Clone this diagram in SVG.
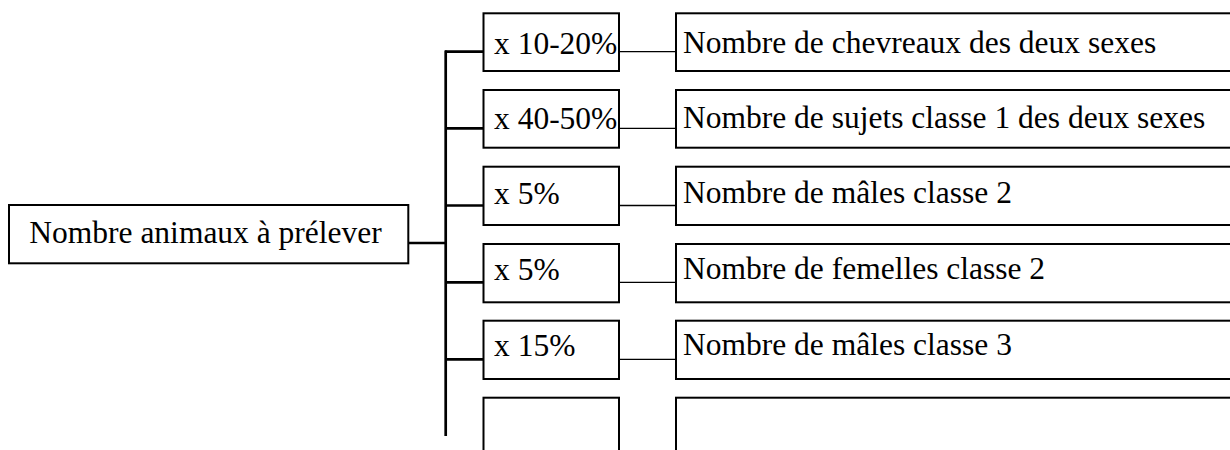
<svg xmlns="http://www.w3.org/2000/svg" width="1230" height="450" viewBox="0 0 1230 450">
<style>
.box{fill:#fff;stroke:#000;stroke-width:2}
.t{font-family:"Liberation Serif","Times New Roman",serif;font-size:31.5px;fill:#000}
.thick{stroke:#000;stroke-width:2.7;fill:none}
.thin{stroke:#000;stroke-width:1.3;fill:none}
</style>
<rect width="1230" height="450" fill="#fff"/>
<g id="connectors">
<line class="thick" x1="408" y1="243" x2="446" y2="243"/>
<line class="thick" x1="445.7" y1="50.4" x2="445.7" y2="436"/>
<line class="thick" x1="445" y1="51.7" x2="484" y2="51.7"/>
<line class="thick" x1="445" y1="128.3" x2="484" y2="128.3"/>
<line class="thick" x1="445" y1="205.5" x2="484" y2="205.5"/>
<line class="thick" x1="445" y1="282.3" x2="484" y2="282.3"/>
<line class="thick" x1="445" y1="359.3" x2="484" y2="359.3"/>
<line class="thin" x1="619" y1="51.7" x2="676" y2="51.7"/>
<line class="thin" x1="619" y1="128.3" x2="676" y2="128.3"/>
<line class="thin" x1="619" y1="205.5" x2="676" y2="205.5"/>
<line class="thin" x1="619" y1="282.3" x2="676" y2="282.3"/>
<line class="thin" x1="619" y1="359.3" x2="676" y2="359.3"/>
</g>
<g id="root">
<rect class="box" x="9" y="205" width="399.3" height="58.3"/>
<text class="t" x="29.3" y="242.7">Nombre animaux à prélever</text>
</g>
<g id="p1">
<rect class="box" x="483.5" y="13.3" width="135.5" height="57.7"/>
<text class="t" x="494" y="54">x 10-20%</text>
</g>
<g id="p2">
<rect class="box" x="483.5" y="90" width="135.5" height="57.7"/>
<text class="t" x="494" y="129">x 40-50%</text>
</g>
<g id="p3">
<rect class="box" x="483.5" y="166.7" width="135.5" height="58.3"/>
<text class="t" x="494" y="204">x 5%</text>
</g>
<g id="p4">
<rect class="box" x="483.5" y="244" width="135.5" height="58.3"/>
<text class="t" x="494" y="280">x 5%</text>
</g>
<g id="p5">
<rect class="box" x="483.5" y="320.7" width="135.5" height="58.3"/>
<text class="t" x="494" y="355.7">x 15%</text>
</g>
<g id="p6">
<rect class="box" x="483.5" y="397.7" width="135.5" height="70"/>
</g>
<g id="r1">
<rect class="box" x="676" y="13.3" width="580" height="57.7"/>
<text class="t" x="683" y="53.3">Nombre de chevreaux des deux sexes</text>
</g>
<g id="r2">
<rect class="box" x="676" y="90" width="580" height="57.7"/>
<text class="t" x="683" y="128.3">Nombre de sujets classe 1 des deux sexes</text>
</g>
<g id="r3">
<rect class="box" x="676" y="166.7" width="580" height="58.3"/>
<text class="t" x="683" y="203">Nombre de mâles classe 2</text>
</g>
<g id="r4">
<rect class="box" x="676" y="244" width="580" height="58.3"/>
<text class="t" x="683" y="279">Nombre de femelles classe 2</text>
</g>
<g id="r5">
<rect class="box" x="676" y="320.7" width="580" height="58.3"/>
<text class="t" x="683" y="355">Nombre de mâles classe 3</text>
</g>
<g id="r6">
<rect class="box" x="676" y="397.7" width="580" height="70"/>
</g>
</svg>
